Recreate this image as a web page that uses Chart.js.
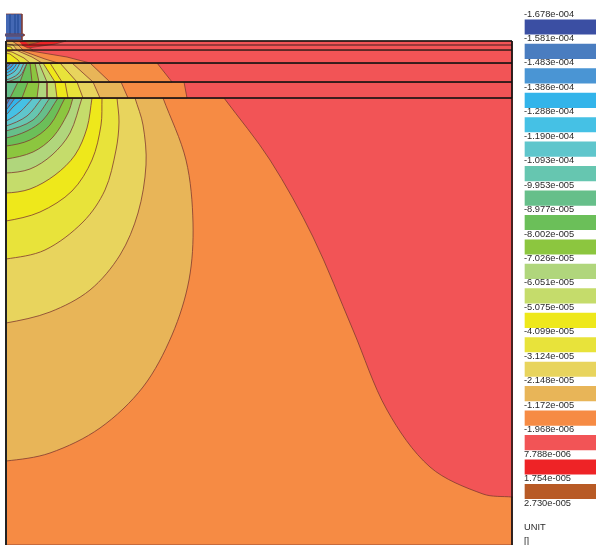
<!DOCTYPE html>
<html>
<head>
<meta charset="utf-8">
<title>Contour plot</title>
<script src="https://cdn.jsdelivr.net/npm/chart.js@4"></script>
<style>
  html, body { margin: 0; padding: 0; background: #fff; overflow: hidden; }
  #plot { position: absolute; left: 0; top: 0; }
  #scale { position: absolute; left: 524px; top: 0; }
</style>
</head>
<body>
<canvas id="plot" width="596" height="545"></canvas>
<canvas id="scale" width="72" height="545"></canvas>
<script>
// Legend
const levelLabels = ['-1.678e-004','-1.581e-004','-1.483e-004','-1.386e-004','-1.288e-004','-1.190e-004','-1.093e-004',
  '-9.953e-005','-8.977e-005','-8.002e-005','-7.026e-005','-6.051e-005','-5.075e-005','-4.099e-005','-3.124e-005',
  '-2.148e-005','-1.172e-005','-1.968e-006','7.788e-006','1.754e-005','2.730e-005'];
const unitLabels = ['UNIT', '[]'];
const unitTicks = [21, 21.57];
const bandColors = ['#3b4fa3','#4a7dc0','#4a95d4','#33b4ea','#45c1e5','#5fc6cc','#66c6b0','#66bf8a','#6bbf59','#8cc63f',
  '#b0d67c','#c5dc6b','#eee81b','#e8e33a','#e8d45d','#e8b558','#f68b44','#f25456','#ee2326','#b85a25'];

// Layer interfaces, depth, with line width
const frameLeft = 6;
const frameRight = 512;
const frameBottom = 545;
const interfaces = [41, 45, 50, 63, 82, 98];
const interfaceWidths = [1.5, 0.8, 1.2, 1.5, 1.5, 1.5];

// Contours of the thick lower layer, left edge to layer top
const lowerRed = [[224,98],[270,160],[313,237],[353,330],[387,410],[430,467],[483,494],[512,497],[514,497],[514,98]];
const lowerTan = [[6,461],[50,453],[100,428],[143,387],[172,335],[189,280],[193,223],[186,160],[163,98]];
const lowerLtan = [[6,323],[50,312],[90,290],[120,255],[138,213],[146,165],[143,125],[135,98]];
const lowerPale = [[6,259],[45,250],[83,222],[105,190],[116,150],[119,122],[117,98]];
const lowerBright = [[6,221],[40,212],[72,191],[92,160],[101,125],[102,98]];
const lowerC5 = [[6,193],[30,189],[55,175],[75,155],[87,128],[92,98]];
const lowerB0 = [[6,173],[30,169],[52,155],[70,133],[82,98]];
const lower8c = [[6,159],[33,152],[53,137],[68,113],[73,98]];
const lower6b = [[6,146],[30,140],[50,125],[65,98]];
const lower66 = [[6,138],[27,131],[43,120],[58,98]];
const lowerTeal = [[6,131],[33,120],[50,98]];
const lowerCyan = [[6,126],[27,116],[42,98]];
const lowerSky = [[6,121],[20,112],[33,98]];
const lowerAzure = [[6,115],[13,107],[23,98]];
const lowerBlue = [[6,110],[15,98]];
const lowerSteel = [[6,105],[10,98]];
const lowerDark = [[6,101],[8,98]];

// Contours of the two middle layers, as x on the layer top and x on the layer bottom
const layerDBounds = [[184,187,'#f68b44'],[121,128,'#e8b558'],[93,100,'#e8d45d'],[77,83,'#e8e33a'],[65,68,'#eee81b'],[55,57,'#c5dc6b'],[47,47,'#b0d67c'],[39,37,'#8cc63f'],[28,22,'#6bbf59'],[18,10,'#66bf8a']];
const layerCBounds = [[157,172,'#f68b44'],[90,110,'#e8b558'],[72,93,'#e8d45d'],[60,77,'#e8e33a'],[50,62,'#eee81b'],[43,55,'#c5dc6b'],[39,47,'#b0d67c'],[35,39,'#8cc63f'],[30,32,'#6bbf59'],[27,20,'#66bf8a']];

// Rings under the interface at 63
const ringTeal = [[6,82],[20,76],[27,63]];
const ringCyan = [[6,80],[18,74],[24,63]];
const ringSky = [[6,76],[15,71],[20,63]];
const ringAzure = [[6,73],[13,69],[17,63]];
const ringBlue = [[6,70],[11,67],[14,63]];
const ringSteel = [[6,67],[9,65],[11,63]];

// Thin layers close to the contact
const layerBOrange = [[6,50],[25,50],[67,57],[90,63],[6,63]];
const layerBTan = [[6,50],[20,50],[45,59],[58,63],[6,63]];
const layerBLtan = [[6,50],[16,50],[32,57],[42,63],[6,63]];
const layerBPale = [[6,51],[12,52],[24,58],[30,63],[6,63]];
const layerBBright = [[6,53],[10,54],[18,60],[20,63],[6,63]];
const layerAOrange = [[6,41],[19,41],[24,45],[33,50],[6,50]];
const layerATan = [[6,41],[12,41],[18,45],[23,50],[6,50]];
const layerALtan = [[6,44],[13,45],[17,50],[6,50]];
const layerAPale = [[6,46],[11,47],[13,50],[6,50]];
const lensRed = [[19,41],[66,41],[55,44],[38,46.5],[28,48],[22,45]];
const lensBrown = [[24,41],[42,41],[36,43],[29,44.5]];

// Contact on top
const contactBody = [[6,14],[22,14],[22,40],[6,40]];
const contactFlange = [[5,34],[24,34],[24,36],[5,36]];
const contactStripes = [10, 15, 18];

const contourColor = '#803a30';
const lineColor = '#101010';

function pts(list) {
  return list.map(p => ({ x: p[0], y: p[1] }));
}

let datasets = [];

function region(list, color, tension) {
  datasets.push({
    data: pts(list),
    showLine: true,
    fill: 'shape',
    backgroundColor: color,
    borderColor: contourColor,
    borderWidth: 0.8,
    tension: tension || 0,
    pointRadius: 0
  });
}

function rule(list, color, width) {
  datasets.push({
    data: pts(list),
    showLine: true,
    fill: false,
    borderColor: color,
    borderWidth: width,
    tension: 0,
    pointRadius: 0
  });
}

// Curved region that hangs from an interface, closed along that interface and the left edge
function hanging(curve, top, color) {
  let leftY = curve[0][1];
  region([[frameLeft, top], [frameLeft, leftY - 3]].concat(curve), color, 0.33);
}

// Lower layer
region([[frameLeft,98],[frameRight,98],[frameRight,frameBottom],[frameLeft,frameBottom]], '#f68b44');
region(lowerRed, '#f25456', 0.33);
hanging(lowerTan, 98, '#e8b558');
hanging(lowerLtan, 98, '#e8d45d');
hanging(lowerPale, 98, '#e8e33a');
hanging(lowerBright, 98, '#eee81b');
hanging(lowerC5, 98, '#c5dc6b');
hanging(lowerB0, 98, '#b0d67c');
hanging(lower8c, 98, '#8cc63f');
hanging(lower6b, 98, '#6bbf59');
hanging(lower66, 98, '#66bf8a');
hanging(lowerTeal, 98, '#66c6b0');
hanging(lowerCyan, 98, '#5fc6cc');
hanging(lowerSky, 98, '#45c1e5');
hanging(lowerAzure, 98, '#33b4ea');
hanging(lowerBlue, 98, '#4a95d4');
hanging(lowerSteel, 98, '#4a7dc0');
hanging(lowerDark, 98, '#3b4fa3');

// Layer 82 to 98
region([[frameLeft,82],[frameRight,82],[frameRight,98],[frameLeft,98]], '#f25456');
layerDBounds.forEach(b => region([[frameLeft,82],[b[0],82],[b[1],98],[frameLeft,98]], b[2]));

// Layer 63 to 82
region([[frameLeft,63],[frameRight,63],[frameRight,82],[frameLeft,82]], '#f25456');
layerCBounds.forEach(b => region([[frameLeft,63],[b[0],63],[b[1],82],[frameLeft,82]], b[2]));
hanging(ringTeal, 63, '#66c6b0');
hanging(ringCyan, 63, '#5fc6cc');
hanging(ringSky, 63, '#45c1e5');
hanging(ringAzure, 63, '#33b4ea');
hanging(ringBlue, 63, '#4a95d4');
hanging(ringSteel, 63, '#4a7dc0');

// Layer 50 to 63
region([[frameLeft,50],[frameRight,50],[frameRight,63],[frameLeft,63]], '#f25456');
region(layerBOrange, '#f68b44');
region(layerBTan, '#e8b558');
region(layerBLtan, '#e8d45d');
region(layerBPale, '#e8e33a');
region(layerBBright, '#eee81b');

// Top layers
region([[frameLeft,41],[frameRight,41],[frameRight,50],[frameLeft,50]], '#f25456');
region(layerAOrange, '#f68b44');
region(layerATan, '#e8b558');
region(layerALtan, '#e8d45d');
region(layerAPale, '#eee81b');
region(lensRed, '#ee2326');
region(lensBrown, '#b85a25');

// Frame and interfaces
interfaces.forEach((y, i) => rule([[frameLeft,y],[frameRight,y]], lineColor, interfaceWidths[i]));
rule([[frameLeft,41],[frameLeft,frameBottom]], '#222', 2);
rule([[frameRight,41],[frameRight,frameBottom]], lineColor, 1.5);

// Contact
region(contactBody, '#4468b4');
contactStripes.forEach(x => rule([[x,14],[x,34]], '#2f559f', 1));
region(contactFlange, '#3a5fae');

// Chart.js paints the first dataset last, so keep the list order as paint order
datasets.forEach((d, i) => { d.order = datasets.length - i; });

new Chart(document.getElementById('plot'), {
  type: 'scatter',
  data: { datasets: datasets },
  options: {
    responsive: false,
    animation: false,
    events: [],
    layout: { padding: { left: 5, right: 83, top: 0, bottom: 0 } },
    plugins: { legend: { display: false }, tooltip: { enabled: false } },
    scales: {
      x: { type: 'linear', min: 5, max: 513, display: false },
      y: { type: 'linear', min: 0, max: 545, reverse: true, display: false }
    }
  }
});

// Colour scale
const bandBars = bandColors.map((c, i) => ({ x: [1, 72], y: i + 0.53 }));
const scaleTicks = levelLabels.map((l, i) => i).concat(unitTicks);

new Chart(document.getElementById('scale'), {
  type: 'bar',
  data: {
    datasets: [{
      data: bandBars,
      backgroundColor: bandColors,
      barThickness: 14.5,
      borderWidth: 0
    }]
  },
  options: {
    indexAxis: 'y',
    responsive: false,
    animation: false,
    events: [],
    layout: { autoPadding: false },
    plugins: { legend: { display: false }, tooltip: { enabled: false } },
    scales: {
      x: { type: 'linear', min: 0, max: 72, display: false },
      y: {
        type: 'linear',
        offset: false,
        min: -0.5726,
        max: 21.72,
        reverse: true,
        grid: { display: false, drawTicks: false, offset: false },
        border: { display: false },
        afterBuildTicks: axis => {
          axis.ticks = scaleTicks.map(v => ({ value: v }));
        },
        // the tick labels must not push the bars inwards
        afterFit: axis => {
          axis.paddingTop = 0;
          axis.paddingBottom = 0;
        },
        ticks: {
          mirror: true,
          padding: 0,
          autoSkip: false,
          color: '#2a2a2a',
          font: { family: '"Liberation Sans"', size: 9.3 },
          callback: v => {
            let k = unitTicks.indexOf(v);
            return k >= 0 ? unitLabels[k] : levelLabels[v];
          }
        }
      }
    }
  }
});
</script>
</body>
</html>
